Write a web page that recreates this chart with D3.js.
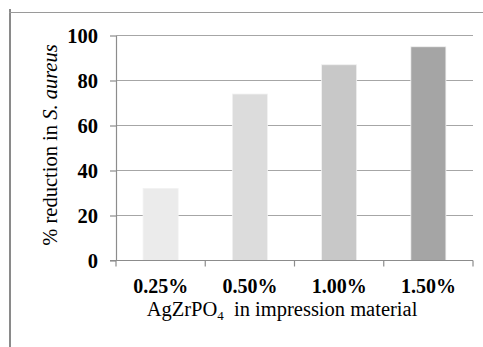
<!DOCTYPE html>
<html>
<head>
<meta charset="utf-8">
<script src="https://cdn.jsdelivr.net/npm/d3@7"></script>
<style>
  body { margin: 0; background: #fff; }
  svg { display: block; }
  svg text { font-family: 'Liberation Serif', 'Times New Roman', serif; }
</style>
</head>
<body>
<div id="chart"></div>
<script>
// data
const categories = ["0.25%", "0.50%", "1.00%", "1.50%"];
const reduction = [32, 74, 87, 95];
const barColors = ["#ebebeb", "#dcdcdc", "#c8c8c8", "#a5a5a5"];
const yTicks = [0, 20, 40, 60, 80, 100];

const width = 483, height = 347;
const margin = { top: 35.5, right: 10, bottom: 86.5, left: 116 };
const innerW = 473 - margin.left;
const innerH = height - margin.top - margin.bottom;

const svg = d3.select("#chart").append("svg")
  .attr("width", width)
  .attr("height", height);

// outer frame (only left and top edges show in the crop)
svg.append("line")
  .attr("x1", 10).attr("x2", 10).attr("y1", 9).attr("y2", height)
  .attr("stroke", "#8a8a8a").attr("stroke-width", 2);
svg.append("line")
  .attr("x1", 9).attr("x2", width).attr("y1", 12.5).attr("y2", 12.5)
  .attr("stroke", "#9a9a9a").attr("stroke-width", 1);

const g = svg.append("g")
  .attr("transform", `translate(${margin.left},${margin.top})`);

const x = d3.scaleBand()
  .domain(categories)
  .range([0, innerW])
  .paddingInner(0.607)
  .paddingOuter(0.3035);

const y = d3.scaleLinear().domain([0, 100]).range([innerH, 0]);

// gridlines
g.append("g")
  .selectAll("line")
  .data(yTicks.filter(d => d > 0))
  .join("line")
  .attr("x1", 0).attr("x2", innerW)
  .attr("y1", d => y(d)).attr("y2", d => y(d))
  .attr("stroke", "#a6a6a6").attr("stroke-width", 1.2);

// bars
g.selectAll("rect.bar")
  .data(reduction)
  .join("rect")
  .attr("class", "bar")
  .attr("x", (d, i) => x(categories[i]))
  .attr("y", d => y(d))
  .attr("width", x.bandwidth())
  .attr("height", d => innerH - y(d))
  .attr("fill", (d, i) => barColors[i])
  .attr("stroke", "#f2f2f2")
  .attr("stroke-width", 0.8);

// y axis
const yAxis = g.append("g")
  .call(d3.axisLeft(y).tickValues(yTicks).tickSize(6).tickSizeOuter(0).tickPadding(12));
yAxis.select(".domain").attr("stroke", "#8c8c8c").attr("stroke-width", 1.2);
yAxis.selectAll(".tick line").attr("stroke", "#8c8c8c").attr("stroke-width", 1.2);
yAxis.selectAll(".tick text")
  .style("font-size", "20.5px").style("font-weight", "bold")
  .attr("fill", "#000");

// x axis: ticks at category boundaries
const xAxisG = g.append("g").attr("transform", `translate(0,${innerH})`);
xAxisG.append("line")
  .attr("x1", -6).attr("x2", innerW)
  .attr("stroke", "#8c8c8c").attr("stroke-width", 1.2);
const step = x.step();
xAxisG.selectAll("line.sep")
  .data(d3.range(categories.length + 1))
  .join("line")
  .attr("class", "sep")
  .attr("x1", i => i * step).attr("x2", i => i * step)
  .attr("y1", 0).attr("y2", 6)
  .attr("stroke", "#8c8c8c").attr("stroke-width", 1.2);
xAxisG.selectAll("text")
  .data(categories)
  .join("text")
  .attr("x", d => x(d) + x.bandwidth() / 2)
  .attr("y", 32)
  .attr("text-anchor", "middle")
  .style("font-size", "20px").style("font-weight", "bold")
  .text(d => d);

// x axis title
const xt = svg.append("text")
  .attr("x", 282).attr("y", 316)
  .attr("text-anchor", "middle")
  .style("font-size", "20.5px");
xt.append("tspan").text("AgZrPO");
xt.append("tspan").style("font-size", "13px").attr("dy", 4).text("4");
xt.append("tspan").attr("dy", -4).text("\u00a0 in impression material");

// y axis title
const yt = svg.append("text")
  .attr("transform", "translate(57,145) rotate(-90)")
  .attr("text-anchor", "middle")
  .style("font-size", "20.5px");
yt.append("tspan").text("% reduction in ");
yt.append("tspan").style("font-style", "italic").text("S. aureus");
</script>
</body>
</html>
